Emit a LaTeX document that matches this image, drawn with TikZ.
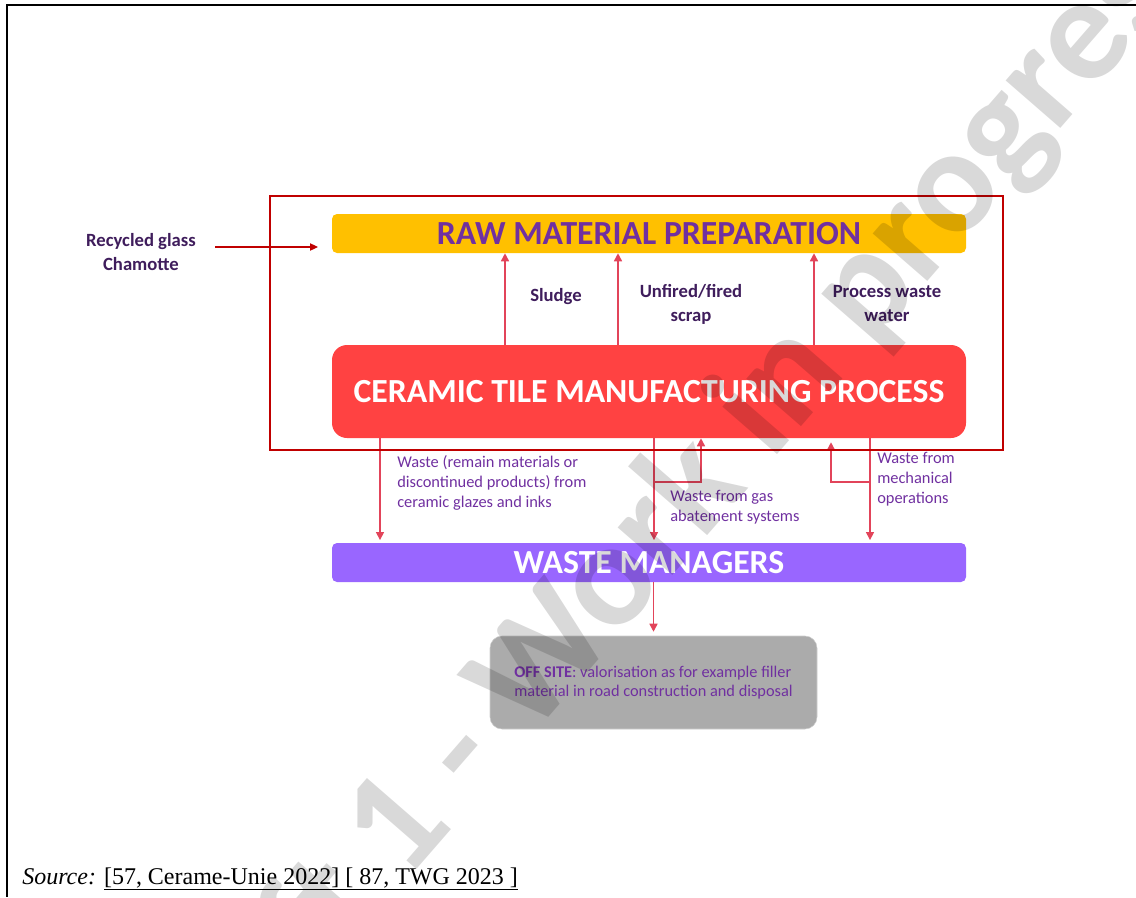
\documentclass[tikz,border=0pt]{standalone}
\usepackage{fontspec}
\setmainfont{Carlito}
\newfontfamily\srcfont{Liberation Serif}
\usetikzlibrary{arrows.meta, positioning, calc}
\definecolor{framered}{HTML}{C00000}
\definecolor{rawyellow}{HTML}{FFC000}
\definecolor{procred}{HTML}{FF4242}
\definecolor{wastepurple}{HTML}{9966FF}
\definecolor{offgray}{HTML}{ABABAB}
\definecolor{titlepurple}{HTML}{7030A0}
\definecolor{darkplum}{HTML}{3F1D5C}
\definecolor{flowred}{HTML}{E2445A}
\tikzstyle{arrow} = [-{Triangle[length=6pt, width=6pt]}, line width=1.1pt, color=flowred]
\tikzstyle{inarrow} = [-{Triangle[length=6pt, width=5.5pt]}, line width=0.8pt, color=framered]

\begin{document}
\begin{tikzpicture}[x=0.75pt, y=-0.75pt,
    bar/.style={rectangle, rounded corners=3.75pt, minimum width=475.5pt, minimum height=29.25pt,
      inner sep=0pt, font=\bfseries\fontsize{25.3}{25.3}\selectfont},
    flowlbl/.style={font=\bfseries\fontsize{14}{18}\selectfont, text=darkplum, align=center},
    wastelbl/.style={font=\fontsize{12.3}{15}\selectfont, text=titlepurple, align=left, anchor=west, inner sep=0pt}
  ]
    \useasboundingbox (0,0) rectangle (1136,897);
    % page rules
    \draw[line width=1.5pt] (1136,5) -- (7,5) -- (7,897);

    \node[bar, fill=rawyellow, text=titlepurple] (raw) at (649,233.5) {RAW MATERIAL PREPARATION};
    \node[bar, fill=procred, text=white, minimum height=69.75pt, rounded corners=11.25pt] (proc) at (649,391.5) {CERAMIC TILE MANUFACTURING PROCESS};
    \node[bar, fill=wastepurple, text=white] (wm) at (649,562.5) {WASTE MANAGERS};
    \node[rectangle, rounded corners=9pt, fill=offgray, draw=offgray!60, minimum width=245.25pt, minimum height=69.75pt,
      text=titlepurple, align=left, font=\fontsize{12.25}{14.25}\selectfont] (off) at (653.5,682.5)
      {\textbf{OFF SITE}: valorisation as for example filler\\material in road construction and disposal};

    \node[flowlbl] (rec) at (141,252) {Recycled glass\\Chamotte};
    \node[flowlbl] (sludge) at (556,297) {Sludge};
    \node[flowlbl] (scrap) at (691,304) {Unfired/fired\\scrap};
    \node[flowlbl] (water) at (887,304) {Process waste\\water};

    \node[wastelbl] (glaze) at (397,483) {Waste (remain materials or\\discontinued products) from\\ceramic glazes and inks};
    \node[wastelbl] (gas) at (670,507) {Waste from gas\\abatement systems};
    \node[wastelbl] (mech) at (877,479) {Waste from\\mechanical\\operations};

    % flows back to raw material preparation
    \foreach \ax in {505, 618, 814}
      \draw[arrow] (\ax,0 |- proc.north) -- (\ax,0 |- raw.south);

    % flows to waste managers
    \draw[arrow, shorten >=2pt] (380,0 |- proc.south) -- (380,0 |- wm.north);
    \draw[arrow, shorten >=2pt] (654,0 |- proc.south) -- (654,0 |- wm.north);
    \draw[arrow] (654,482) -- (701,482) -- (701,0 |- proc.south);
    \draw[arrow, shorten >=2pt] (870,0 |- proc.south) -- (870,0 |- wm.north);
    \draw[arrow, shorten >=3pt] (870,482) -- (831,482) -- (831,0 |- proc.south);
    \draw[arrow, shorten >=3pt] (wm.south -| off.north) -- (off.north);

    \coordinate (recA) at (215,247);
    \coordinate (recB) at (318,247);
    \draw[inarrow] (recA) -- (recB);

    \draw[framered, line width=2.2pt] (270,196) rectangle (1003,450);

    \node[anchor=base west, inner sep=0pt, font=\srcfont\fontsize{18}{20}\selectfont] (src) at (22,884)
      {\textit{Source:} \underline{[57, Cerame-Unie 2022] [ 87, TWG 2023 ]}};

    % watermark
    \begin{scope}
      \clip (0,0) rectangle (1136,897);
      \node[rotate=49, text=black, text opacity=0.15, font=\bfseries\fontsize{112}{112}\selectfont] (wmark) at (668,520)
        {Draft 1 - Work in progress};
    \end{scope}
  \end{tikzpicture}
\end{document}
